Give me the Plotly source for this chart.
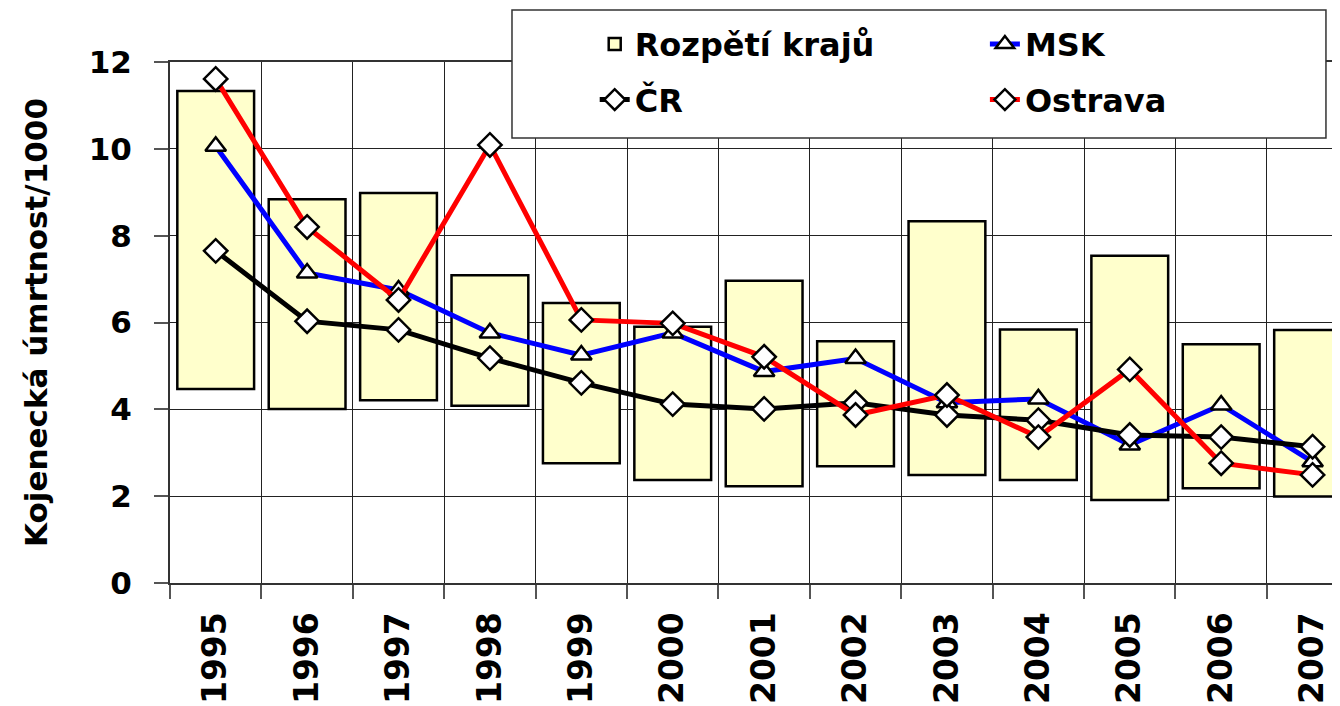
import plotly.graph_objects as go

years = ["1995", "1996", "1997", "1998", "1999", "2000", "2001",
         "2002", "2003", "2004", "2005", "2006", "2007"]
range_low = [4.47, 4.01, 4.21, 4.08, 2.76, 2.37, 2.23, 2.69, 2.49, 2.37, 1.91, 2.18, 1.99]
range_high = [11.33, 8.84, 8.98, 7.09, 6.45, 5.90, 6.96, 5.57, 8.33, 5.84, 7.54, 5.50, 5.83]
msk = [10.06, 7.14, 6.75, 5.76, 5.25, 5.76, 4.87, 5.17, 4.15, 4.24, 3.18, 4.10, 2.79]
cr = [7.65, 6.03, 5.83, 5.18, 4.61, 4.12, 4.01, 4.15, 3.87, 3.75, 3.41, 3.36, 3.14]
ostrava = [11.61, 8.20, 6.52, 10.09, 6.06, 5.98, 5.21, 3.87, 4.33, 3.36, 4.92, 2.76, 2.49]

FONT = "DejaVu Sans"

fig = go.Figure()
fig.add_trace(go.Bar(
    x=years, y=[h - l for h, l in zip(range_high, range_low)], base=range_low,
    name="<b>Rozpětí krajů</b>", legend="legend", legendgroup="g1",
    marker=dict(color="#FFFFCC", line=dict(color="black", width=2.5)),
))
marker_style = dict(color="white", size=18, line=dict(color="black", width=2.5))
fig.add_trace(go.Scatter(
    x=years, y=msk, name="<b>MSK</b>", mode="lines+markers",
    legend="legend2", legendgroup="g2",
    line=dict(color="#0000FF", width=5),
    marker=dict(symbol="triangle-up", **marker_style),
))
fig.add_trace(go.Scatter(
    x=years, y=cr, name="<b>ČR</b>", mode="lines+markers",
    legend="legend", legendgroup="g3",
    line=dict(color="black", width=5),
    marker=dict(symbol="diamond", **marker_style),
))
fig.add_trace(go.Scatter(
    x=years, y=ostrava, name="<b>Ostrava</b>", mode="lines+markers",
    legend="legend2", legendgroup="g4",
    line=dict(color="#FF0000", width=5),
    marker=dict(symbol="diamond", **marker_style),
))

legend_common = dict(
    orientation="v", xanchor="left", yanchor="top", y=1.087,
    bgcolor="rgba(0,0,0,0)", borderwidth=0, tracegroupgap=11,
    font=dict(family=FONT, size=32, color="black"),
)

fig.update_layout(
    width=1332, height=698,
    margin=dict(l=162, r=0, t=54, b=123, autoexpand=False),
    paper_bgcolor="white", plot_bgcolor="white",
    font=dict(family=FONT, color="black"),
    bargap=0.16,
    showlegend=True,
    legend=dict(x=0.363, **legend_common),
    legend2=dict(x=0.6965, **legend_common),
    shapes=[dict(
        type="rect", xref="paper", yref="paper",
        x0=0.2923, x1=0.988, y0=0.854, y1=1.0998,
        fillcolor="white", line=dict(color="#333", width=1.5), layer="above",
    )],
    xaxis=dict(
        type="category", range=[-0.5, 12.3],
        tickson="boundaries", ticks="outside", ticklen=14, tickcolor="#555", tickwidth=1.5,
        showgrid=True, gridcolor="#222", gridwidth=1,
        showline=True, linecolor="#333", linewidth=2, mirror=True,
        tickangle=-90, tickfont=dict(family=FONT, size=33, color="black", weight="bold"),
        ticklabelstandoff=14,
    ),
    yaxis=dict(
        range=[0, 12], tickvals=[0, 2, 4, 6, 8, 10, 12],
        ticks="outside", ticklen=14, tickcolor="#555", tickwidth=1.5,
        showgrid=True, gridcolor="#222", gridwidth=1,
        showline=True, linecolor="#333", linewidth=2, mirror=True,
        zeroline=False,
        tickfont=dict(family=FONT, size=31, color="black", weight="bold"),
        ticklabelstandoff=16,
        title=dict(text="<b>Kojenecká úmrtnost/1000</b>", standoff=32,
                   font=dict(family=FONT, size=31, color="black")),
    ),
)

fig.write_html("out.html")
